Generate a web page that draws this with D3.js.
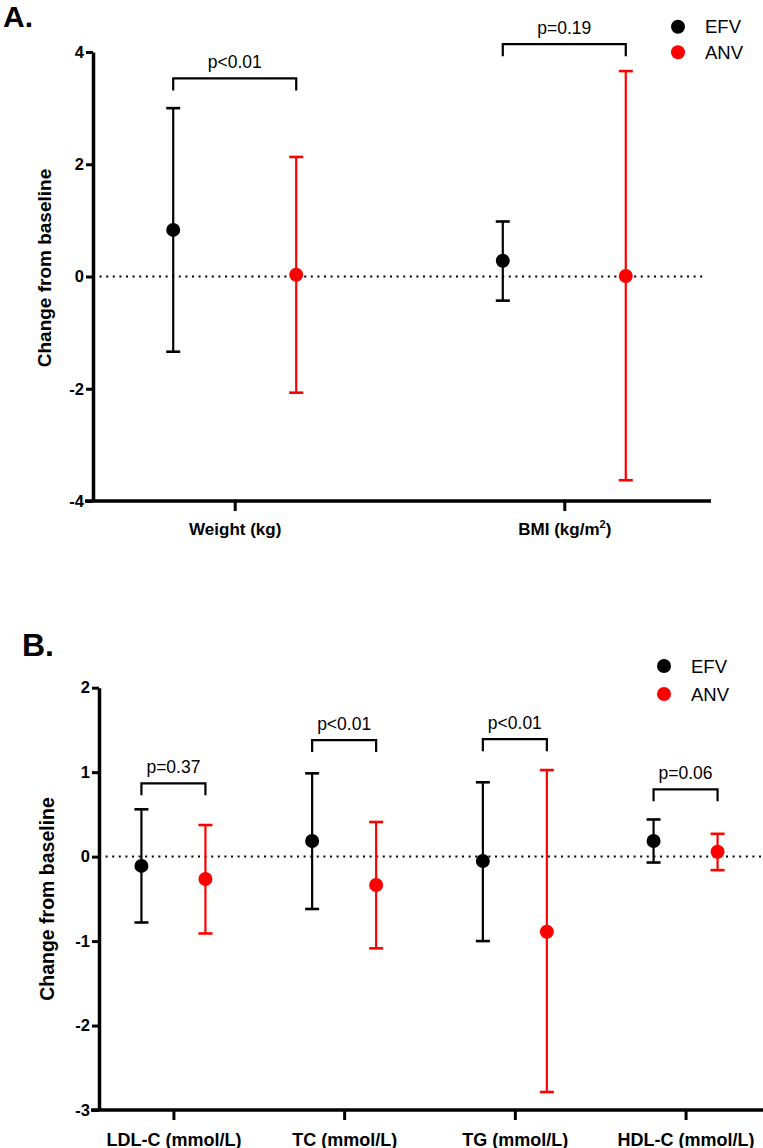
<!DOCTYPE html>
<meta charset="utf-8">
<script src="https://d3js.org/d3.v7.min.js"></script>
<style>
  body { margin: 0; background: #fff; }
  text { font-family: "Liberation Sans", Arial, sans-serif; }
</style>
<div id="chart"></div>
<script>
// ---- data, panel A ----
var catsA = ["Weight (kg)", "BMI (kg/m2)"];
var efvMeanA = [0.83, 0.28];
var efvLowA  = [-1.34, -0.43];
var efvHighA = [3.0, 0.98];
var anvMeanA = [0.03, 0.01];
var anvLowA  = [-2.07, -3.63];
var anvHighA = [2.13, 3.66];
var pA = ["p<0.01", "p=0.19"];
var bracketA = [3.53, 4.14];
var ticksA = [-4, -2, 0, 2, 4];

// ---- data, panel B ----
var catsB = ["LDL-C (mmol/L)", "TC (mmol/L)", "TG (mmol/L)", "HDL-C (mmol/L)"];
var efvMeanB = [-0.11, 0.185, -0.052, 0.185];
var efvLowB  = [-0.78, -0.62, -1.0, -0.07];
var efvHighB = [0.56, 0.986, 0.88, 0.44];
var anvMeanB = [-0.265, -0.336, -0.889, 0.058];
var anvLowB  = [-0.91, -1.086, -2.787, -0.16];
var anvHighB = [0.374, 0.41, 1.025, 0.27];
var pB = ["p=0.37", "p<0.01", "p<0.01", "p=0.06"];
var bracketB = [0.868, 1.38, 1.39, 0.797];
var ticksB = [-3, -2, -1, 0, 1, 2];

var groups = ["EFV", "ANV"];
var colors = {EFV: "#000000", ANV: "#ff0000"};

var svg = d3.select("#chart").append("svg")
    .attr("width", 763).attr("height", 1148);

function panel(o) {
  var g = svg.append("g");
  var y = d3.scaleLinear().domain(o.yDomain).range(o.yRange);
  var x = d3.scalePoint().domain(o.cats).range(o.xRange).padding(o.pad);

  // zero line
  g.append("line")
    .attr("x1", o.xRange[0]).attr("x2", o.zeroEnd)
    .attr("y1", y(0)).attr("y2", y(0))
    .attr("stroke", "#000").attr("stroke-width", 2)
    .attr("stroke-dasharray", "2,4.6");

  // y axis (hyphen minus, like the original)
  var ya = g.append("g")
    .attr("transform", "translate(" + o.xRange[0] + ",0)")
    .call(d3.axisLeft(y).tickValues(o.ticks).tickSize(7).tickSizeOuter(0).tickFormat(d => String(d)));
  ya.select(".domain").attr("stroke-width", 3.5);
  ya.selectAll(".tick line").attr("stroke-width", 3);
  ya.selectAll(".tick text")
    .attr("font-size", 16.5).attr("font-weight", "bold").attr("x", -9)
    .attr("font-family", "Liberation Sans, Arial, sans-serif");

  // x axis
  var xa = g.append("g")
    .attr("transform", "translate(0," + o.yRange[0] + ")")
    .call(d3.axisBottom(x).tickSize(10).tickSizeOuter(0));
  xa.select(".domain").remove();
  xa.append("line")
    .attr("x1", o.xRange[0] - 8).attr("x2", o.axisEnd)
    .attr("stroke", "#000").attr("stroke-width", 3.5);
  xa.selectAll(".tick line").attr("stroke-width", 3);
  xa.selectAll(".tick text")
    .attr("font-size", o.xFont).attr("font-weight", "bold").attr("dy", "1.25em")
    .attr("font-family", "Liberation Sans, Arial, sans-serif")
    .each(function(d) {
      var t = d3.select(this);
      if (d === "BMI (kg/m2)") {
        t.text("BMI (kg/m");
        t.append("tspan").attr("font-size", 11).attr("dy", "-0.7em").text("2");
        t.append("tspan").attr("dy", "0.45em").text(")");
      }
    });

  // y title
  g.append("text")
    .attr("transform", "translate(" + o.titleX + "," + o.titleY + ") rotate(-90)")
    .attr("text-anchor", "middle")
    .attr("font-size", o.titleFont).attr("font-weight", "bold")
    .text("Change from baseline");

  // error bars and points
  var series = [
    {name: "EFV", mean: o.efv[0], lo: o.efv[1], hi: o.efv[2], dx: -o.off},
    {name: "ANV", mean: o.anv[0], lo: o.anv[1], hi: o.anv[2], dx: o.off}
  ];
  series.forEach(function(s) {
    var pts = o.cats.map(function(c, i) {
      return {cx: x(c) + s.dx, m: s.mean[i], lo: s.lo[i], hi: s.hi[i]};
    });
    var sg = g.append("g").attr("stroke", colors[s.name]).attr("fill", colors[s.name]);
    sg.selectAll(".bar").data(pts).enter().append("line")
      .attr("x1", d => d.cx).attr("x2", d => d.cx)
      .attr("y1", d => y(d.lo)).attr("y2", d => y(d.hi))
      .attr("stroke-width", 2.2);
    sg.selectAll(".capH").data(pts).enter().append("line")
      .attr("x1", d => d.cx - 7).attr("x2", d => d.cx + 7)
      .attr("y1", d => y(d.hi)).attr("y2", d => y(d.hi))
      .attr("stroke-width", 2.6);
    sg.selectAll(".capL").data(pts).enter().append("line")
      .attr("x1", d => d.cx - 7).attr("x2", d => d.cx + 7)
      .attr("y1", d => y(d.lo)).attr("y2", d => y(d.lo))
      .attr("stroke-width", 2.6);
    sg.selectAll("circle").data(pts).enter().append("circle")
      .attr("cx", d => d.cx).attr("cy", d => y(d.m)).attr("r", 7).attr("stroke", "none");
  });

  // significance brackets
  o.cats.forEach(function(c, i) {
    var x1 = x(c) - o.off, x2 = x(c) + o.off, by = y(o.brackets[i]);
    g.append("path")
      .attr("d", "M" + x1 + "," + (by + 12) + "V" + by + "H" + x2 + "V" + (by + 12))
      .attr("fill", "none").attr("stroke", "#000").attr("stroke-width", 2.2);
    g.append("text")
      .attr("x", (x1 + x2) / 2).attr("y", by - 10)
      .attr("text-anchor", "middle").attr("font-size", 17.5)
      .text(o.pvals[i]);
  });

  // legend
  groups.forEach(function(name, i) {
    var ly = o.legY + i * o.legGap;
    g.append("circle").attr("cx", o.legX).attr("cy", ly).attr("r", 7).attr("fill", colors[name]);
    g.append("text").attr("x", o.legX + 27).attr("y", ly + 6.5)
      .attr("font-size", 18.5).text(name);
  });

  // panel letter
  g.append("text").attr("x", o.letterX).attr("y", o.letterY)
    .attr("font-size", o.letterFont).attr("font-weight", "bold").text(o.letter);
}

panel({
  cats: catsA, yDomain: [-4, 4], yRange: [501, 52], xRange: [93, 706], pad: 0.43,
  axisEnd: 711, zeroEnd: 706, ticks: ticksA, off: 61.5, xFont: 17,
  efv: [efvMeanA, efvLowA, efvHighA], anv: [anvMeanA, anvLowA, anvHighA],
  brackets: bracketA, pvals: pA,
  titleX: 51, titleY: 268, titleFont: 19,
  legX: 678, legY: 26.7, legGap: 25.6,
  letter: "A.", letterX: 3, letterY: 27, letterFont: 30
});

panel({
  cats: catsB, yDomain: [-3, 2], yRange: [1110, 687.7], xRange: [99, 760], pad: 0.436,
  axisEnd: 763, zeroEnd: 762, ticks: ticksB, off: 32, xFont: 18,
  efv: [efvMeanB, efvLowB, efvHighB], anv: [anvMeanB, anvLowB, anvHighB],
  brackets: bracketB, pvals: pB,
  titleX: 54, titleY: 899, titleFont: 19.5,
  legX: 664, legY: 666, legGap: 28,
  letter: "B.", letterX: 22, letterY: 656, letterFont: 32
});
</script>
